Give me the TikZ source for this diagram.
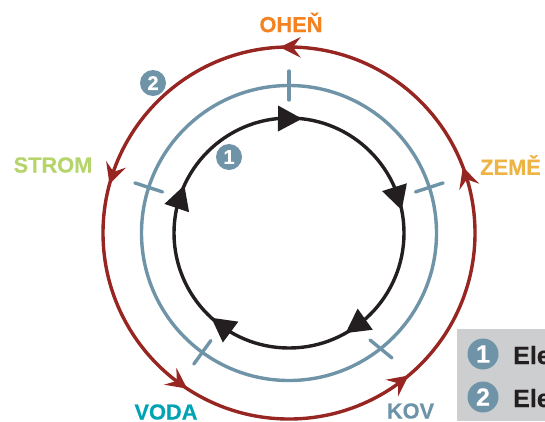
\documentclass[tikz,border=0pt]{standalone}
\usepackage{fontspec}
\setmainfont{Liberation Sans}
\newfontfamily\heavyfont{Liberation Sans}[BoldFeatures={FakeBold=0.35}]
\definecolor{ringred}{HTML}{972622}
\definecolor{ringblue}{HTML}{6F94A8}
\definecolor{ringblack}{HTML}{231F20}
\definecolor{legendgray}{HTML}{CDCED0}
\definecolor{labfire}{HTML}{F58220}
\definecolor{labearth}{HTML}{EDB445}
\definecolor{labtree}{HTML}{B5D56A}
\definecolor{labwater}{HTML}{00A3B4}
\definecolor{labmetal}{HTML}{6D93A8}
\tikzset{
  ring/.style={line width=3.4pt},
  ticktick/.style={ringblue,line width=3.4pt,line cap=round},
  elem/.style={font=\heavyfont\bfseries\fontsize{21.8}{21.8}\selectfont,inner sep=0pt,anchor=center},
  badge/.style={circle,fill=ringblue,text=white,inner sep=0pt,minimum size=26pt,font=\heavyfont\bfseries\fontsize{20}{20}\selectfont},
  bigbadge/.style={badge,minimum size=31pt,font=\heavyfont\bfseries\fontsize{25}{25}\selectfont},
  legendtext/.style={font=\heavyfont\bfseries\fontsize{25}{25}\selectfont,text=ringblack,inner sep=0pt,anchor=base west}
}
\begin{document}
\begin{tikzpicture}[x=1pt,y=-1pt]
\useasboundingbox (0,0) rectangle (545,421);
\clip (0,0) rectangle (545,421);
\coordinate (c) at (289,233);
% rings
\draw[ring,ringred] (c) circle[radius=186pt];
\draw[ring,ringblue] (c) circle[radius=147.5pt];
\draw[ring,ringblack] (c) circle[radius=115pt];
% ticks
\foreach \a in {90,162,234,18}
  \draw[ticktick] ([shift={(\a:133pt)}]c) -- ([shift={(\a:162pt)}]c);
\coordinate (ka) at (370,340);
\coordinate (kb) at (392,358);
\draw[ticktick] (ka) -- (kb);
% black arrowheads (clockwise), tip on the ring
\foreach \a in {83.5,11.5,-60.5,-132.5,155.5}
  \fill[ringblack,shift={(c)},shift={(\a:115pt)},rotate=\a+96] (0,0) -- (24,-13) -- (24,13) -- cycle;
% red arrowheads (counter-clockwise), tip on the ring
\foreach \a in {92.8,164.8,236.8,310,20.8}
  \fill[ringred,shift={(c)},shift={(\a:186pt)},rotate=\a-93] (0,0) -- (21,-10.5) -- (13,0) -- (21,10.5) -- cycle;
% labels
\node[elem,text=labfire] (ohen) at (291,22.5) {OHEŇ};
\node[elem,text=labearth] (zeme) at (510.5,165) {ZEMĚ};
\node[elem,text=labtree] (strom) at (53,165) {STROM};
\node[elem,text=labwater] (voda) at (166,412) {VODA};
\node[elem,text=labmetal] (kov) at (410.5,411) {KOV};
\node[badge] (b1) at (229,157) {1};
\node[badge] (b2) at (153,83) {2};
% legend
\fill[legendgray] (457,329) rectangle (545,421);
\node[bigbadge] (l1) at (483,354) {1};
\node[bigbadge] (l2) at (483,397) {2};
\node[legendtext] (t1) at (513,364) {Ele};
\node[legendtext] (t2) at (513,407) {Ele};
\end{tikzpicture}
\end{document}
